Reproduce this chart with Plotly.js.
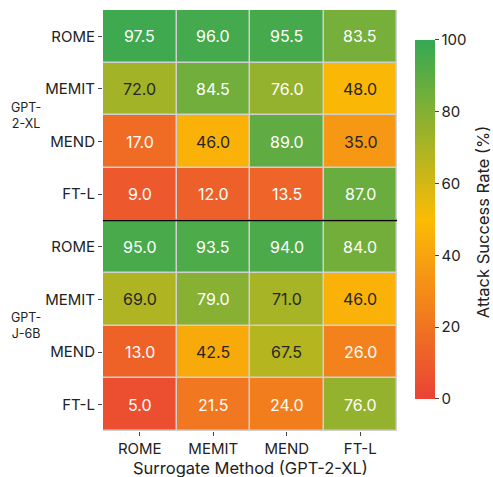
<!DOCTYPE html>
<html><head><meta charset="utf-8">
<script src="https://cdn.plot.ly/plotly-3.0.1.min.js"></script>
<style>html,body{margin:0;padding:0;background:#fff}#chart{width:493px;height:477px}</style>
</head><body><div id="chart"></div>
<script>
const surrogates = ["ROME", "MEMIT", "MEND", "FT-L"];
const targets = ["ROME", "MEMIT", "MEND", "FT-L"];
const groups = ["GPT-<br>2-XL", "GPT-<br>J-6B"];
const gpt2xl = [
  [97.5, 96.0, 95.5, 83.5],
  [72.0, 84.5, 76.0, 48.0],
  [17.0, 46.0, 89.0, 35.0],
  [9.0, 12.0, 13.5, 87.0]
];
const gptj6b = [
  [95.0, 93.5, 94.0, 84.0],
  [69.0, 79.0, 71.0, 46.0],
  [13.0, 42.5, 67.5, 26.0],
  [5.0, 21.5, 24.0, 76.0]
];

const FONT = 'Inter, sans-serif';
const z = gpt2xl.concat(gptj6b);
const yvals = z.map((_, i) => i);
const ytext = targets.concat(targets);
const xvals = surrogates.map((_, i) => i);

const annotations = [];
z.forEach((row, i) => row.forEach((v, j) => {
  annotations.push({
    x: j, y: i, xref: 'x', yref: 'y', showarrow: false,
    text: v.toFixed(1),
    font: {family: FONT, size: 16, color: (v > 30 && v < 75) ? '#262626' : '#ffffff'}
  });
}));
groups.forEach((g, k) => {
  annotations.push({
    xref: 'paper', yref: 'y', x: -0.262, y: k * 4 + 1.5, showarrow: false,
    text: g, align: 'center', xanchor: 'center', yanchor: 'middle',
    font: {family: FONT, size: 12.5, color: '#222'}
  });
});
annotations.push({
  xref: 'paper', yref: 'paper', x: 0.5, y: -0.0879, xanchor: 'center', yanchor: 'middle',
  showarrow: false, text: 'Surrogate Method (GPT-2-XL)',
  font: {family: FONT, size: 16.5, color: '#222'}
});
annotations.push({
  xref: 'paper', yref: 'paper', x: 1.2925, y: 0.496, xanchor: 'center', yanchor: 'middle',
  showarrow: false, textangle: -90, text: 'Attack Success Rate (%)',
  font: {family: FONT, size: 16.5, color: '#222'}
});

const trace = {
  type: 'heatmap', z: z, x: xvals, y: yvals,
  zmin: 0, zmax: 100,
  colorscale: [[0, '#EA4335'], [0.5, '#FBBC04'], [1, '#34A853']],
  xgap: 1.5, ygap: 1.5,
  hoverinfo: 'skip',
  colorbar: {
    thickness: 20, len: 0.8527, lenmode: 'fraction',
    x: 1.0612, xanchor: 'left', y: 0.5024, yanchor: 'middle',
    xpad: 0, ypad: 0,
    outlinewidth: 0,
    ticks: 'outside', ticklen: 4, tickcolor: '#444',
    tickvals: [0, 20, 40, 60, 80, 100],
    tickfont: {family: FONT, size: 15, color: '#222'}
  }
};

const layout = {
  width: 493, height: 477,
  margin: {l: 103, r: 96, t: 10, b: 46},
  paper_bgcolor: '#ffffff', plot_bgcolor: '#d0d0d0',
  font: {family: FONT, color: '#222'},
  xaxis: {
    tickvals: xvals, ticktext: surrogates, ticks: 'outside', ticklen: 4, tickcolor: '#444',
    tickfont: {size: 15, color: '#222'}, showgrid: false, zeroline: false,
    range: [-0.5, 3.5]
  },
  yaxis: {
    tickvals: yvals, ticktext: ytext, ticks: 'outside', ticklen: 4, tickcolor: '#444',
    tickfont: {size: 15, color: '#222'}, showgrid: false, zeroline: false,
    range: [7.5, -0.5]
  },
  shapes: [{type: 'line', xref: 'paper', yref: 'y', x0: 0, x1: 1, y0: 3.5, y1: 3.5,
            line: {color: '#000', width: 1.5}}],
  annotations: annotations
};

Plotly.newPlot('chart', [trace], layout, {displayModeBar: false, staticPlot: true});
</script></body></html>
